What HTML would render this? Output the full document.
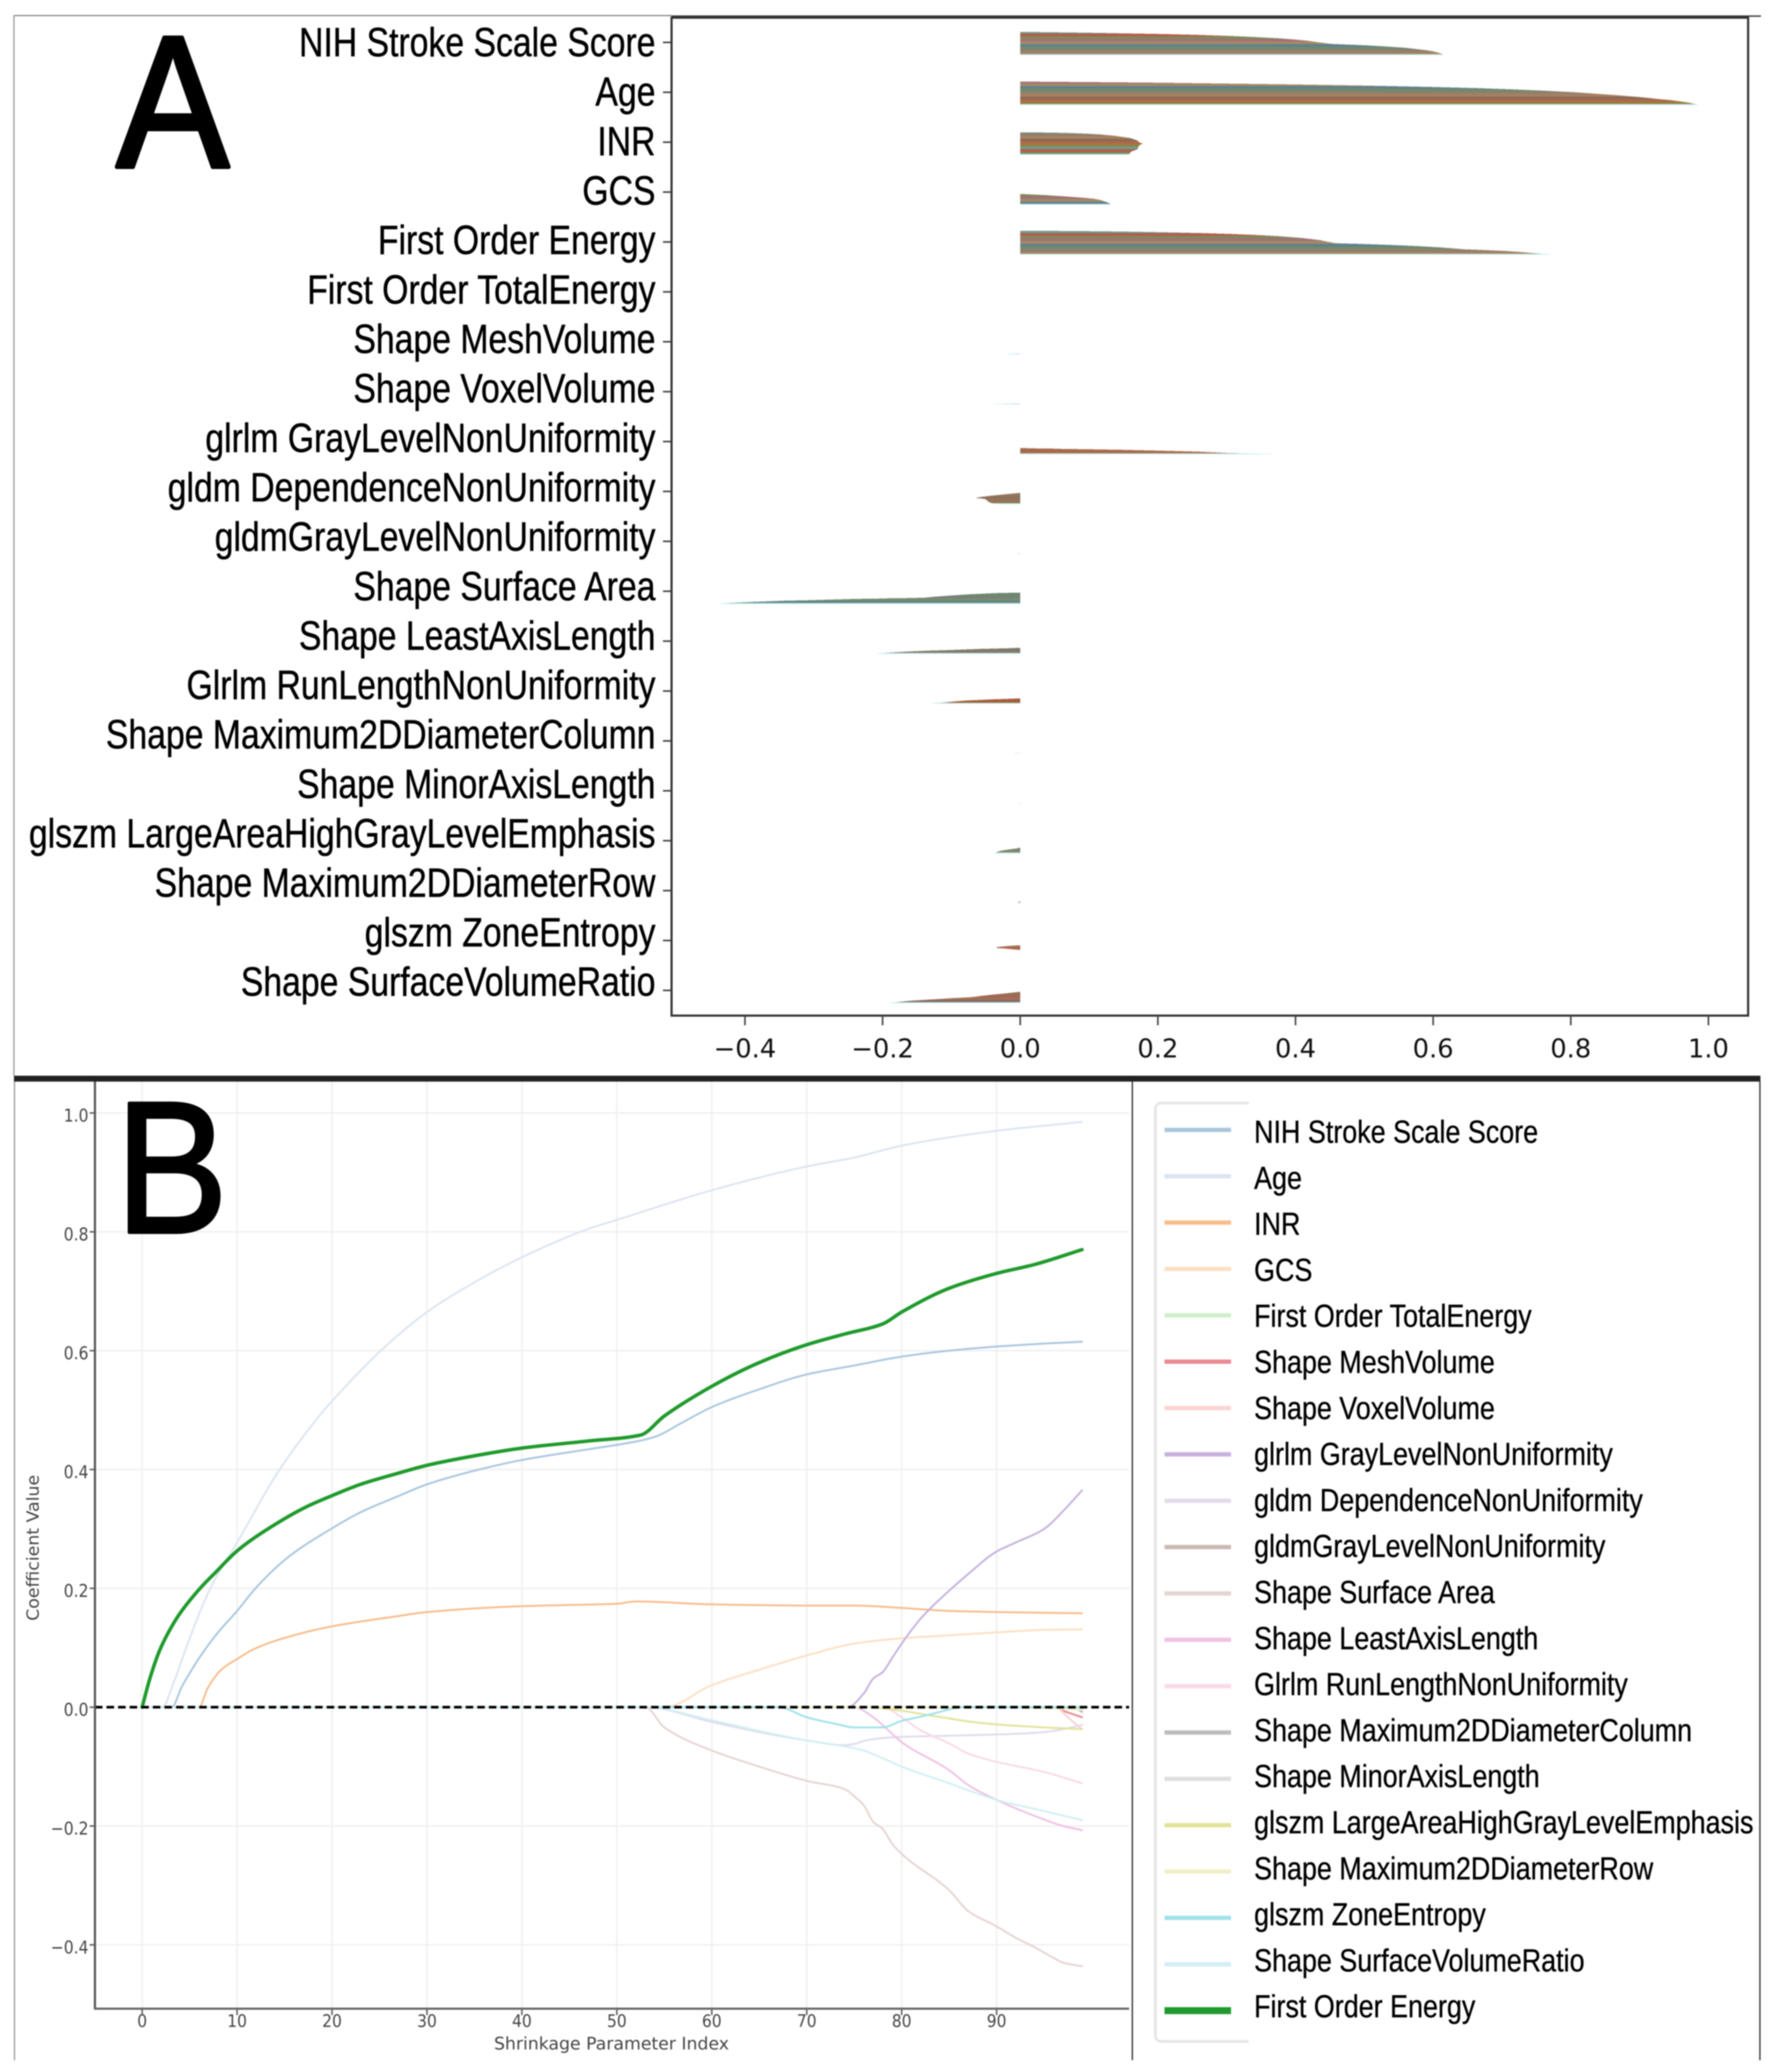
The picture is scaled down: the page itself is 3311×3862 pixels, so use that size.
<!DOCTYPE html>
<html lang="en">
<head>
<meta charset="utf-8">
<title>Lasso coefficient chart</title>
<style>
html,body{margin:0;padding:0;background:#fff;}
svg{display:block;filter:blur(1.1px);}
</style>
</head>
<body>
<svg id="figure" xmlns="http://www.w3.org/2000/svg" width="3311" height="3862" viewBox="0 0 3311 3862">
  <rect x="0" y="0" width="3311" height="3862" fill="#fff"/>
  <line x1="26" y1="29" x2="26" y2="2005" stroke="#888" stroke-width="2"/>
  <line x1="26" y1="29" x2="1252" y2="29" stroke="#777" stroke-width="2"/>
  <line x1="1252" y1="30" x2="3283" y2="30" stroke="#333" stroke-width="2.5"/>
  <line x1="27" y1="2016" x2="27" y2="3840" stroke="#888" stroke-width="2"/>
  <line x1="3281" y1="2016" x2="3281" y2="3840" stroke="#333" stroke-width="2.5"/>
  <rect x="26" y="2005" width="3256" height="11" fill="#222"/>
  <line x1="2111" y1="2016" x2="2111" y2="3840" stroke="#333" stroke-width="2.5"/>

  <g id="panelA"></g>
  <g id="panelB"></g>
  <g id="legend">
    <path d="M2328 2056H2166Q2154 2056 2154 2068V3793Q2154 3805 2166 3805H2328" fill="none" stroke="#e6e6e6" stroke-width="5"/>
  </g>

  <text transform="translate(322,311) scale(.9,1)" text-anchor="middle" font-family="'Liberation Sans',sans-serif" font-size="350" fill="#000" stroke="#000" stroke-width="8" stroke-linejoin="round">A</text>
  <text transform="translate(320,2297) scale(.9,1)" text-anchor="middle" font-family="'Liberation Sans',sans-serif" font-size="350" fill="#000" stroke="#000" stroke-width="6" stroke-linejoin="round">B</text>
</svg>
<script>
// ---- Chart data: coefficient paths (shrinkage index / coefficient value) ----
const nihIdx = [0,3.1,4.2,6.1,8,10,12.1,15.5,20,23,26.8,30,35,40,47,52,54,57,60,65,70,75,80,85,90,95,99];
const nihVal = [0,0,.035,.085,.126,.162,.203,.254,.301,.328,.354,.375,.398,.416,.434,.447,.455,.48,.505,.535,.56,.575,.59,.6,.607,.612,.615];
const ageIdx = [0,2.2,3.1,4.8,6.1,7.4,10,14.4,18.5,20,25,30,35,40,47,50,60,70,75,80,90,99];
const ageVal = [0,0,.032,.107,.161,.207,.277,.398,.487,.515,.598,.665,.715,.757,.805,.82,.87,.91,.925,.945,.97,.985];
const inrIdx = [0,6,6.9,8.4,10,11.8,15.1,20,26.8,30,40,45,50,52,60,70,75,80,85,90,99];
const inrVal = [0,0,.032,.064,.081,.098,.117,.136,.153,.16,.17,.172,.174,.178,.173,.171,.171,.167,.162,.16,.158];
const gcsIdx = [0,55,60,65,70,75,80,85,90,95,99];
const gcsVal = [0,0,.037,.063,.087,.107,.116,.121,.126,.13,.131];
const energyIdx = [0,.85,1.8,2.77,3.86,6.1,7.8,10,13.65,17.4,20,23,26.8,30,35,40,47,52.5,55,60,65,70,74,78,80,85,90,94,99];
const energyVal = [0,.05,.094,.126,.155,.2,.228,.263,.304,.338,.356,.375,.393,.407,.423,.436,.448,.458,.49,.54,.58,.61,.628,.645,.665,.705,.73,.745,.77];
const totalEnergyIdx = [0,99];
const totalEnergyVal = [0,0];
const meshIdx = [0,96,97,99];
const meshVal = [0,0,-.006,-.017];
const voxelIdx = [0,96,98,99];
const voxelVal = [0,0,-.024,-.037];
const glrlmGrayIdx = [0,74.3,76,77,78,79,80,82,85,87,90,92,95,97,99];
const glrlmGrayVal = [0,0,.023,.048,.059,.083,.107,.149,.196,.224,.262,.277,.3,.33,.365];
const gldmDepIdx = [0,53,60,65,70,74,75,76,77,78,80,85,90,95,97,99];
const gldmDepVal = [0,0,-.025,-.042,-.056,-.064,-.062,-.057,-.054,-.052,-.05,-.048,-.046,-.042,-.037,-.03];
const gldmGrayIdx = [0,97,99];
const gldmGrayVal = [0,0,-.005];
const surfaceIdx = [0,53,55,60,65,70,74,75,76,77,78,79,80,85,87,90,92,94,96,97,99];
const surfaceVal = [0,0,-.034,-.073,-.1,-.124,-.138,-.15,-.165,-.193,-.205,-.23,-.247,-.308,-.343,-.369,-.388,-.404,-.422,-.43,-.436];
const leastIdx = [0,75,77,79,80,85,87,90,95,97,99];
const leastVal = [0,0,-.017,-.045,-.059,-.106,-.131,-.156,-.189,-.2,-.207];
const glrlmRunIdx = [0,78,80,82,85,87,90,95,99];
const glrlmRunVal = [0,0,-.017,-.039,-.061,-.078,-.092,-.109,-.128];
const maxColIdx = [0,98,99];
const maxColVal = [0,0,-.008];
const minorIdx = [0,98,99];
const minorVal = [0,0,-.003];
const largeIdx = [0,76,80,83,85,87,90,95,99];
const largeVal = [0,0,-.006,-.014,-.019,-.024,-.029,-.034,-.037];
const maxRowIdx = [0,90,99];
const maxRowVal = [0,0,-.004];
const zoneIdx = [0,67,70,73,75,76,78,80,82,85,86,99];
const zoneVal = [0,0,-.017,-.028,-.034,-.034,-.034,-.023,-.016,-.004,0,0];
const svrIdx = [0,53,60,65,70,74,76,78,80,85,90,95,99];
const svrVal = [0,0,-.022,-.04,-.056,-.066,-.073,-.086,-.1,-.128,-.156,-.175,-.19];

// Categories and tick labels
const barFeatures = ["NIH Stroke Scale Score","Age","INR","GCS","First Order Energy","First Order TotalEnergy","Shape MeshVolume","Shape VoxelVolume","glrlm GrayLevelNonUniformity","gldm DependenceNonUniformity","gldmGrayLevelNonUniformity","Shape Surface Area","Shape LeastAxisLength","Glrlm RunLengthNonUniformity","Shape Maximum2DDiameterColumn","Shape MinorAxisLength","glszm LargeAreaHighGrayLevelEmphasis","Shape Maximum2DDiameterRow","glszm ZoneEntropy","Shape SurfaceVolumeRatio"];
const legendFeatures = ["NIH Stroke Scale Score","Age","INR","GCS","First Order TotalEnergy","Shape MeshVolume","Shape VoxelVolume","glrlm GrayLevelNonUniformity","gldm DependenceNonUniformity","gldmGrayLevelNonUniformity","Shape Surface Area","Shape LeastAxisLength","Glrlm RunLengthNonUniformity","Shape Maximum2DDiameterColumn","Shape MinorAxisLength","glszm LargeAreaHighGrayLevelEmphasis","Shape Maximum2DDiameterRow","glszm ZoneEntropy","Shape SurfaceVolumeRatio","First Order Energy"];
const barTicks = [-0.4,-0.2,0,0.2,0.4,0.6,0.8,1.0];
const lineXTicks = [0,10,20,30,40,50,60,70,80,90];
const lineYTicks = [-0.4,-0.2,0,0.2,0.4,0.6,0.8,1.0];

// Styles
const legendColors = ["#a9c6de","#dbe5f2","#f9bd8b","#fde0c4","#cfeeca","#e98a92","#fdd2d2","#c6b2de","#e2dbec","#cdb8b4","#e6d5d1","#f0c2e4","#fad9e8","#bdbdbd","#dedede","#e2e39a","#eff0c8","#9fe2ea","#d2eff4","#1f9a2c"];
const stripeColors = ["#6f9a90","#b85a4a","#7f8a5a","#a27078","#a58a60","#5f8090","#6f8a6a","#8f7f70","#a88060","#8a6a55","#b0684a","#96803f"];
const featureTints = {"gldm DependenceNonUniformity":"#8c7460","Shape Surface Area":"#5f8a78","Shape LeastAxisLength":"#75766a","Glrlm RunLengthNonUniformity":"#a8502f","glszm LargeAreaHighGrayLevelEmphasis":"#6f8a70","glszm ZoneEntropy":"#b8603f","Shape SurfaceVolumeRatio":"#a0604a","glrlm GrayLevelNonUniformity":"#b0603a"};

const seriesByName = {
  "NIH Stroke Scale Score":[nihIdx,nihVal],
  "Age":[ageIdx,ageVal],
  "INR":[inrIdx,inrVal],
  "GCS":[gcsIdx,gcsVal],
  "First Order Energy":[energyIdx,energyVal],
  "First Order TotalEnergy":[totalEnergyIdx,totalEnergyVal],
  "Shape MeshVolume":[meshIdx,meshVal],
  "Shape VoxelVolume":[voxelIdx,voxelVal],
  "glrlm GrayLevelNonUniformity":[glrlmGrayIdx,glrlmGrayVal],
  "gldm DependenceNonUniformity":[gldmDepIdx,gldmDepVal],
  "gldmGrayLevelNonUniformity":[gldmGrayIdx,gldmGrayVal],
  "Shape Surface Area":[surfaceIdx,surfaceVal],
  "Shape LeastAxisLength":[leastIdx,leastVal],
  "Glrlm RunLengthNonUniformity":[glrlmRunIdx,glrlmRunVal],
  "Shape Maximum2DDiameterColumn":[maxColIdx,maxColVal],
  "Shape MinorAxisLength":[minorIdx,minorVal],
  "glszm LargeAreaHighGrayLevelEmphasis":[largeIdx,largeVal],
  "Shape Maximum2DDiameterRow":[maxRowIdx,maxRowVal],
  "glszm ZoneEntropy":[zoneIdx,zoneVal],
  "Shape SurfaceVolumeRatio":[svrIdx,svrVal]
};

const NS = "http://www.w3.org/2000/svg";
function make(tag, attrs, parent, text){
  const el = document.createElementNS(NS, tag);
  for (const k in attrs) el.setAttribute(k, attrs[k]);
  if (text !== undefined) el.textContent = text;
  parent.appendChild(el);
  return el;
}
function fmt(v){ return (v < 0 ? "\u2212" : "") + Math.abs(v).toFixed(1); }
function slug(s){ return s.toLowerCase().replace(/[^a-z0-9]+/g, "-"); }
function valueAt(idx, val, i){
  for (let k = 1; k < idx.length; k++){
    if (i <= idx[k]){
      const t = (i - idx[k-1]) / (idx[k] - idx[k-1]);
      return val[k-1] + t * (val[k] - val[k-1]);
    }
  }
  return val[val.length-1];
}
function mixColor(a, b, t){
  const p = c => [1,3,5].map(o => parseInt(c.substr(o,2),16));
  const A = p(a), B = p(b);
  return "rgb(" + A.map((v,k) => Math.round(v + (B[k]-v)*t)).join(",") + ")";
}
function smoothPath(xs, ys){
  const n = xs.length;
  if (n < 3) return "M" + xs[0] + " " + ys[0] + "L" + xs[n-1] + " " + ys[n-1];
  const h = [], d = [], m = [];
  for (let k = 0; k < n-1; k++){ h[k] = xs[k+1]-xs[k]; d[k] = (ys[k+1]-ys[k])/h[k]; }
  m[0] = d[0]; m[n-1] = d[n-2];
  for (let k = 1; k < n-1; k++){
    if (d[k-1]*d[k] <= 0) { m[k] = 0; continue; }
    const w1 = 2*h[k]+h[k-1], w2 = h[k]+2*h[k-1];
    m[k] = (w1+w2)/(w1/d[k-1]+w2/d[k]);
  }
  let path = "M" + xs[0].toFixed(1) + " " + ys[0].toFixed(1);
  for (let k = 0; k < n-1; k++){
    path += "C" + (xs[k]+h[k]/3).toFixed(1) + " " + (ys[k]+m[k]*h[k]/3).toFixed(1) + " " + (xs[k+1]-h[k]/3).toFixed(1) + " " + (ys[k+1]-m[k+1]*h[k]/3).toFixed(1) + " " + xs[k+1].toFixed(1) + " " + ys[k+1].toFixed(1);
  }
  return path;
}

// ---- Panel A axes ----
const panelA = document.getElementById("panelA");
const barX = v => 1902 + 1283 * v;
const barTickY = i => 79 + 93 * i;
const barLabelY = i => 105 + 92.16 * i;
const ALPHA_COUNT = 100;
const groupHeight = 44.5;

barFeatures.forEach((name, f) => {
  const s = seriesByName[name];
  const top = barTickY(f) - groupHeight / 2 + 1;
  const group = make("g", {}, panelA);
  
  
  for (let i = 0; i < ALPHA_COUNT; i++){
    const v = valueAt(s[0], s[1], i);
    if (Math.abs(v) < 0.0005) continue;
    const stripe = Math.floor(i / 11);
    let fill = stripeColors[(stripe + f * 3) % stripeColors.length];
    if (featureTints[name]) fill = mixColor(fill, featureTints[name], 0.65);
    if (i >= 97) fill = "#b5e8ec";
    const x0 = barX(Math.min(0, v));
    const bar = make("rect", {x:x0, y:top + i * groupHeight / ALPHA_COUNT, width:Math.abs(barX(v) - barX(0)), height:0.8, fill:fill}, group);
    
    
  }
  const tick = make("line", {x1:1236, x2:1252, y1:barTickY(f), y2:barTickY(f), stroke:"#444", "stroke-width":3}, panelA);
  
  
  const label = make("text", {transform:"translate(1222," + barLabelY(f) + ") scale(.828,1)", "text-anchor":"end", "font-family":"'Liberation Sans',sans-serif", "font-size":76, fill:"#000", stroke:"#000", "stroke-width":0.8}, panelA, name);
  
  
});

const plotA = make("rect", {x:1252, y:33, width:2007, height:1860, fill:"none", stroke:"#333", "stroke-width":4}, panelA);



barTicks.forEach(v => {
  const tick = make("line", {x1:barX(v), x2:barX(v), y1:1893, y2:1911, stroke:"#444", "stroke-width":3}, panelA);
  
  
  const label = make("text", {x:barX(v), y:1971, "text-anchor":"middle", "font-family":"'DejaVu Sans',sans-serif", "font-size":48, fill:"#111"}, panelA, fmt(v));
  
  
});

// ---- Panel B axes ----
const panelB = document.getElementById("panelB");
const lineX = i => 265 + 17.7 * i;
const lineY = v => 3182 - 1107.5 * v;

lineXTicks.forEach(t => {
  const grid = make("line", {x1:lineX(t), x2:lineX(t), y1:2016, y2:3744, stroke:"#f0f0f0", "stroke-width":3}, panelB);
  
  
  const tick = make("line", {x1:lineX(t), x2:lineX(t), y1:3744, y2:3756, stroke:"#666", "stroke-width":3}, panelB);
  
  
  const label = make("text", {transform:"translate(" + lineX(t) + ",3778) scale(.9,1)", "text-anchor":"middle", "font-family":"'DejaVu Sans',sans-serif", "font-size":32, fill:"#444"}, panelB, String(t));
  
  
});
lineYTicks.forEach(v => {
  const grid = make("line", {x1:177, x2:2105, y1:lineY(v), y2:lineY(v), stroke:"#f0f0f0", "stroke-width":3}, panelB);
  
  
  const tick = make("line", {x1:167, x2:177, y1:lineY(v), y2:lineY(v), stroke:"#666", "stroke-width":3}, panelB);
  
  
  const label = make("text", {transform:"translate(165," + (lineY(v) + 16) + ") scale(.88,1)", "text-anchor":"end", "font-family":"'DejaVu Sans',sans-serif", "font-size":33, fill:"#444"}, panelB, fmt(v));
  
  
});

legendFeatures.forEach((name, n) => {
  const s = seriesByName[name];
  const isEnergy = name === "First Order Energy";
  const line = make("path", {d:smoothPath(s[0].map(lineX), s[1].map(lineY)), fill:"none", stroke:legendColors[n], "stroke-width":isEnergy ? 6.5 : 3.5, "stroke-linejoin":"round", "stroke-linecap":"round"}, panelB);
  
  

  const legendY = 2106 + 86.4 * n;
  const handle = make("line", {x1:2171, x2:2295, y1:legendY, y2:legendY, stroke:legendColors[n], "stroke-width":isEnergy ? 13 : 8}, document.getElementById("legend"));
  
  
  const label = make("text", {transform:"translate(2338," + (2130 + 85.8 * n) + ") scale(.85,1)", "font-family":"'Liberation Sans',sans-serif", "font-size":59, fill:"#000", stroke:"#000", "stroke-width":0.6}, document.getElementById("legend"), name);
  
  
});

const zeroLine = make("line", {x1:177, x2:2105, y1:lineY(0), y2:lineY(0), stroke:"#000", "stroke-width":5, "stroke-dasharray":"14 7.6"}, panelB);



const spineLeft = make("line", {x1:177, x2:177, y1:2016, y2:3746, stroke:"#555", "stroke-width":4}, panelB);


const spineBottom = make("line", {x1:175, x2:2105, y1:3744, y2:3744, stroke:"#666", "stroke-width":4}, panelB);



const xTitle = make("text", {x:1140, y:3820, "text-anchor":"middle", textLength:438, lengthAdjust:"spacingAndGlyphs", "font-family":"'DejaVu Sans',sans-serif", "font-size":32, fill:"#444"}, panelB, "Shrinkage Parameter Index");


const yTitle = make("text", {transform:"translate(72,2885) rotate(-90)", "text-anchor":"middle", textLength:272, lengthAdjust:"spacingAndGlyphs", "font-family":"'DejaVu Sans',sans-serif", "font-size":31, fill:"#444"}, panelB, "Coefficient Value");


</script>
</body>
</html>
